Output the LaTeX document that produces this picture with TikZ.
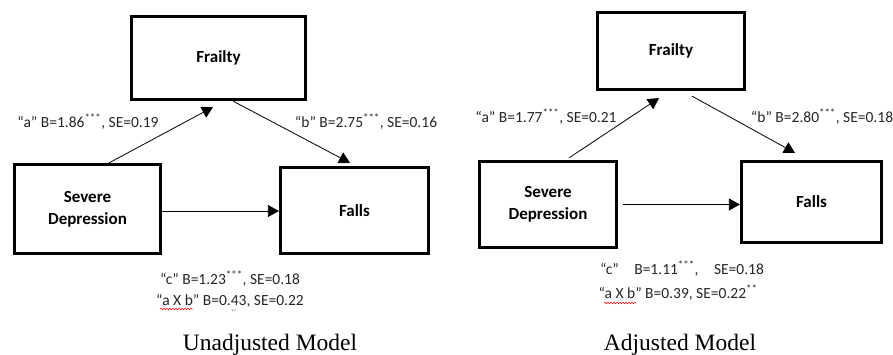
\documentclass[tikz,border=0pt]{standalone}
\usepackage{fontspec}
\setmainfont{Carlito}
\newfontfamily\titlefont{Liberation Serif}
\usetikzlibrary{arrows.meta,decorations.pathmorphing}
\begin{document}
\begin{tikzpicture}[x=1pt,y=-1pt,
  box/.style={draw,line width=3.2pt,inner sep=0pt,align=center,font=\fontsize{17}{22}\selectfont\bfseries},
  arr/.style={line width=0.8pt,-{Triangle[length=11pt,width=12pt]}},
  lab/.style={anchor=base,inner sep=0pt,font=\fontsize{15.5}{17}\selectfont,text=black!85},
  ttl/.style={anchor=base,inner sep=0pt,font=\fontsize{23.5}{26}\titlefont},
  squig/.style={red,line width=0.5pt,decorate,decoration={snake,amplitude=0.8pt,segment length=3pt}}]
\useasboundingbox (0,0) rectangle (893,354);
% ---------- left: unadjusted ----------
\node[box,minimum width=174pt,minimum height=83pt] (frL) at (218.5,58) {Frailty};
\node[box,minimum width=146pt,minimum height=89pt] (sdL) at (87.5,209) {Severe\\Depression};
\node[box,minimum width=148pt,minimum height=86pt] (faL) at (354.5,210.5) {Falls};
\draw[arr] ([xshift=21.5pt]sdL.north) -- ([xshift=-5.5pt,yshift=-6pt]frL.south);
\draw[arr] ([xshift=14.5pt]frL.south) -- ([xshift=-4.5pt,yshift=3pt]faL.north);
\draw[arr] ([yshift=-2pt]sdL.east) -- ([yshift=-2pt]sdL.east -| faL.west);
\node[lab] (laL) at (88,127) {“a” B=1.86\textsuperscript{***}, SE=0.19};
\node[lab] (lbL) at (366,127) {“b” B=2.75\textsuperscript{***}, SE=0.16};
\node[lab] (lcL) at (230,284) {“c” B=1.23\textsuperscript{***}, SE=0.18};
\node[lab] (ldL) at (230,305) {“a X b” B=0.43, SE=0.22};
\node[lab,font=\fontsize{7}{8}\selectfont] (lsL) at (234,317) {\textsuperscript{**}};
\node[ttl] (tL) at (270,350) {Unadjusted Model};
\coordinate (sqL1) at (160,309);
\coordinate (sqL2) at (193,309);
\draw[squig] (sqL1) -- (sqL2);
% ---------- right: adjusted ----------
\node[box,minimum width=147pt,minimum height=77pt] (frR) at (671,51) {Frailty};
\node[box,minimum width=137pt,minimum height=86pt] (sdR) at (548,204.5) {Severe\\Depression};
\node[box,minimum width=140pt,minimum height=81pt] (faR) at (811.5,202) {Falls};
\draw[arr] ([xshift=21pt,yshift=2pt]sdR.north) -- ([xshift=-12pt,yshift=-7pt]frR.south);
\draw[arr] ([xshift=21pt,yshift=-5pt]frR.south) -- ([xshift=-16.5pt,yshift=7pt]faR.north);
\draw[arr] ([xshift=5pt]sdR.east) -- (sdR.east -| faR.west);
\node[lab] (laR) at (546,122) {“a” B=1.77\textsuperscript{***}, SE=0.21};
\node[lab] (lbR) at (822,122) {“b” B=2.80\textsuperscript{***}, SE=0.18};
\node[lab] (lcR) at (682,274) {“c”\quad B=1.11\textsuperscript{***},\quad SE=0.18};
\node[lab] (ldR) at (678,298) {“a X b” B=0.39, SE=0.22\textsuperscript{**}};
\node[ttl] (tR) at (680,350) {Adjusted Model};
\coordinate (sqR1) at (604,303);
\coordinate (sqR2) at (636,303);
\draw[squig] (sqR1) -- (sqR2);
\end{tikzpicture}
\end{document}
